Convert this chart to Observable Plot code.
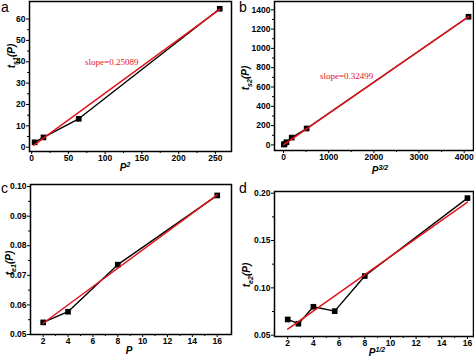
<!DOCTYPE html>
<html>
<head>
<meta charset="utf-8">
<script src="https://cdn.jsdelivr.net/npm/d3@7"></script>
<script src="https://cdn.jsdelivr.net/npm/@observablehq/plot@0.6"></script>
<style>
  html, body { margin: 0; padding: 0; background: #fff; }
  #wrap { position: relative; width: 474px; height: 358px; overflow: hidden; font-family: "Liberation Sans", Arial, sans-serif; }
  .panel { position: absolute; }
  .lbl { position: absolute; font-size: 10px; font-weight: bold; font-style: italic; white-space: nowrap; transform: translate(-50%, -50%); line-height: 12px; }
  .lbl.rot { transform: translate(-50%, -50%) rotate(-90deg); }
  .lbl sub, .lbl sup { font-size: 7px; line-height: 0; }
  .tag { position: absolute; font-size: 14px; line-height: 1; }
</style>
</head>
<body>
<div id="wrap"></div>
<script>
// ---- data ----
// panel a: t_s1(P) vs P^2
const aX = [4, 16, 64, 256];
const aY = [2.3, 4.6, 13.3, 64.8];
const aFitX = [3, 256];
const aFitY = [1.0, 64.5];
const aSlope = "slope=0.25089";
// panel b: t_s2(P) vs P^{3/2}
const bX = [8, 22.6, 64, 181, 512, 4096];
const bY = [3.5, 9, 28, 76, 170, 1328];
const bFitX = [8, 4096];
const bFitY = [2, 1330];
const bSlope = "slope=0.32499";
// panel c: t_e1(P) vs P
const cX = [2, 4, 8, 16];
const cY = [0.0541, 0.0577, 0.0736, 0.0970];
const cFitX = [2, 16];
const cFitY = [0.0538, 0.0972];
// panel d: t_e2(P) vs P^{1/2}
const dX = [2, 2.83, 4, 5.66, 8, 16];
const dY = [0.0666, 0.0621, 0.0800, 0.0754, 0.1125, 0.1948];
const dFitX = [2, 16];
const dFitY = [0.0564, 0.1906];

// tick labels
const aXTicks = [0, 50, 100, 150, 200, 250];
const aYTicks = [0, 10, 20, 30, 40, 50, 60];
const bXTicks = [0, 1000, 2000, 3000, 4000];
const bYTicks = [0, 200, 400, 600, 800, 1000, 1200, 1400];
const cXTicks = [2, 4, 6, 8, 10, 12, 14, 16];
const cYTicks = [0.05, 0.06, 0.07, 0.08, 0.09, 0.10];
const dXTicks = [2, 4, 6, 8, 10, 12, 14, 16];
const dYTicks = [0.05, 0.10, 0.15, 0.20];

const RED = "#e3141b";

function mids(t) { const m = []; for (let i = 0; i < t.length - 1; i++) m.push((t[i] + t[i + 1]) / 2); return m; }

function panel(cfg) {
  const pts = cfg.x.map((v, i) => ({x: v, y: cfg.y[i]}));
  const fit = cfg.fx.map((v, i) => ({x: v, y: cfg.fy[i]}));
  const plain = d => String(d);
  const marks = [
    Plot.axisX(cfg.xt, {tickSize: 3, tickPadding: 0, tickFormat: cfg.xf || plain, label: null}),
    Plot.axisX(mids(cfg.xt), {tickSize: 2, tickFormat: () => "", label: null}),
    Plot.axisY(cfg.yt, {tickSize: 3, tickPadding: 1, tickFormat: cfg.yf || plain, label: null}),
    Plot.axisY(mids(cfg.yt), {tickSize: 2, tickFormat: () => "", label: null}),
    Plot.line(pts, {x: "x", y: "y", stroke: "black", strokeWidth: 1.4}),
    Plot.dot(pts, {x: "x", y: "y", symbol: "square", r: 3.2, fill: "black", stroke: "none"}),
    Plot.line(fit, {x: "x", y: "y", stroke: RED, strokeWidth: 1.5}),
    Plot.frame({stroke: "black", strokeWidth: 1.5})
  ];
  if (cfg.note) marks.push(Plot.text([cfg.note.text], {x: cfg.note.x, y: cfg.note.y, text: d => d, fill: RED, fontSize: 9, fontFamily: "Liberation Serif, serif", fontWeight: "normal"}));
  const p = Plot.plot({
    width: 237, height: 179,
    marginLeft: cfg.m[0], marginRight: cfg.m[1], marginTop: cfg.m[2], marginBottom: cfg.m[3],
    style: {fontFamily: "Liberation Sans, Arial, sans-serif", fontSize: "8.5px", fontWeight: "bold", background: "transparent", overflow: "visible"},
    x: {domain: cfg.xd}, y: {domain: cfg.yd},
    marks
  });
  p.classList.add("panel");
  p.style.left = cfg.pos[0] + "px";
  p.style.top = cfg.pos[1] + "px";
  return p;
}

const wrap = document.getElementById("wrap");
const f2 = d3.format(".2f");
wrap.appendChild(panel({x: aX, y: aY, fx: aFitX, fy: aFitY, xt: aXTicks, yt: aYTicks, xd: [-3, 272], yd: [-2, 68.2],
  m: [29, 6, 1, 28], pos: [0, 0], note: {text: aSlope, x: 109, y: 39.7}}));
wrap.appendChild(panel({x: bX, y: bY, fx: bFitX, fy: bFitY, xt: bXTicks, yt: bYTicks, xd: [-200, 4206], yd: [-58, 1486],
  m: [37, 1, 1, 29], pos: [237, 0], note: {text: bSlope, x: 1395, y: 714}}));
wrap.appendChild(panel({x: cX, y: cY, fx: cFitX, fy: cFitY, xt: cXTicks, yt: cYTicks, yf: f2, xd: [0.98, 17.15], yd: [0.05, 0.1007],
  m: [30, 6, 5, 24], pos: [0, 179]}));
wrap.appendChild(panel({x: dX, y: dY, fx: dFitX, fy: dFitY, xt: dXTicks, yt: dYTicks, yf: f2, xd: [0.97, 16.47], yd: [0.0486, 0.2018],
  m: [37, 1, 12, 22], pos: [237, 179]}));

// axis titles and panel tags
const labels = [
  {html: "P<sup>2</sup>", x: 125, y: 168},
  {html: "t<sub>s1</sub>(P)", x: 12, y: 56, rot: true},
  {html: "P<sup>3/2</sup>", x: 380, y: 171},
  {html: "t<sub>s2</sub>(P)", x: 246, y: 78, rot: true},
  {html: "P", x: 129, y: 351},
  {html: "t<sub>e1</sub>(P)", x: 10, y: 263, rot: true},
  {html: "P<sup>1/2</sup>", x: 377, y: 353},
  {html: "t<sub>e2</sub>(P)", x: 247, y: 275, rot: true}
];
for (const l of labels) {
  const d = document.createElement("div");
  d.className = "lbl" + (l.rot ? " rot" : "");
  d.innerHTML = l.html;
  d.style.left = l.x + "px"; d.style.top = l.y + "px";
  wrap.appendChild(d);
}
const tags = [{t: "a", x: 1, y: 0}, {t: "b", x: 239, y: 0}, {t: "c", x: 1, y: 181}, {t: "d", x: 239, y: 181}];
for (const g of tags) {
  const d = document.createElement("div");
  d.className = "tag"; d.textContent = g.t;
  d.style.left = g.x + "px"; d.style.top = g.y + "px";
  wrap.appendChild(d);
}
</script>
</body>
</html>
